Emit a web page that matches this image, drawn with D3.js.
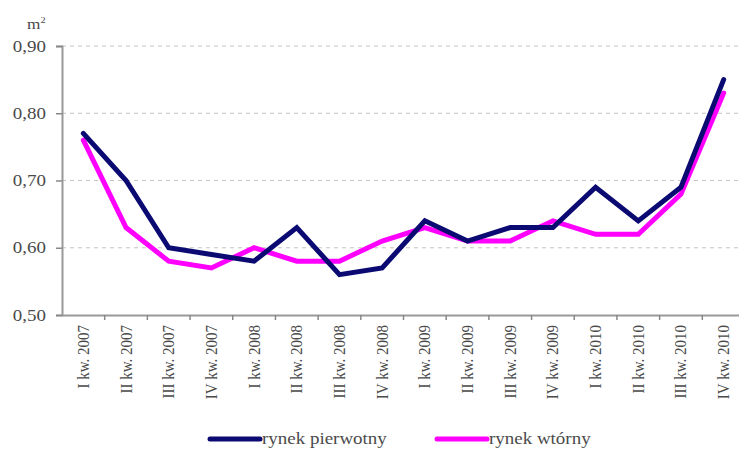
<!DOCTYPE html>
<html>
<head>
<meta charset="utf-8">
<script src="https://cdn.jsdelivr.net/npm/d3@7"></script>
<style>
  html, body { margin: 0; padding: 0; background: #fff; }
  svg { display: block; }
</style>
</head>
<body>
<svg id="chart" width="739" height="450"></svg>
<script>
// Quarterly average area per person (m²), primary vs secondary market
const quarters = [
  "I kw. 2007", "II kw. 2007", "III kw. 2007", "IV kw. 2007",
  "I kw. 2008", "II kw. 2008", "III kw. 2008", "IV kw. 2008",
  "I kw. 2009", "II kw. 2009", "III kw. 2009", "IV kw. 2009",
  "I kw. 2010", "II kw. 2010", "III kw. 2010", "IV kw. 2010"
];
const rynekPierwotny = [0.77, 0.70, 0.60, 0.59, 0.58, 0.63, 0.56, 0.57, 0.64, 0.61, 0.63, 0.63, 0.69, 0.64, 0.69, 0.85];
const rynekWtorny    = [0.76, 0.63, 0.58, 0.57, 0.60, 0.58, 0.58, 0.61, 0.63, 0.61, 0.61, 0.64, 0.62, 0.62, 0.68, 0.83];
const yTicks = [0.50, 0.60, 0.70, 0.80, 0.90];
const seriesNames = ["rynek pierwotny", "rynek wtórny"];
const seriesColors = ["#0a0a72", "#ff00ff"];

const svg = d3.select("#chart");
const margin = { left: 62, top: 46, right: 745, bottom: 315 };

const x = d3.scaleBand().domain(quarters).range([margin.left, margin.right]);
const y = d3.scaleLinear().domain([0.5, 0.9]).range([margin.bottom, margin.top]);

const fmt = v => d3.format(".2f")(v).replace(".", ",");
const font = "Liberation Serif, Times New Roman, serif";
const textColor = "#4a4a4a";
const stretch = 1.15; // text is set slightly wide

// dashed horizontal grid
svg.append("g")
  .selectAll("line")
  .data(yTicks.filter(t => t > 0.5))
  .join("line")
  .attr("x1", margin.left).attr("x2", 739)
  .attr("y1", d => y(d)).attr("y2", d => y(d))
  .attr("stroke", "#c4c4c4")
  .attr("stroke-width", 1)
  .attr("stroke-dasharray", "4,4");

// y axis
const yAxis = svg.append("g")
  .attr("transform", `translate(${margin.left},0)`)
  .call(d3.axisLeft(y).tickValues(yTicks).tickFormat("").tickSize(6));
yAxis.select(".domain").attr("stroke", "#999").attr("stroke-width", 2);
yAxis.selectAll(".tick line").attr("stroke", "#888").attr("stroke-width", 1.5);

svg.append("g")
  .selectAll("text")
  .data(yTicks)
  .join("text")
  .attr("transform", d => `translate(46,${y(d) + 5.5}) scale(${stretch},1)`)
  .attr("text-anchor", "end")
  .attr("font-family", font).attr("font-size", 16.5).attr("fill", textColor)
  .text(fmt);

// x axis
const xAxis = svg.append("g")
  .attr("transform", `translate(0,${margin.bottom})`)
  .call(d3.axisBottom(x).tickSize(0).tickFormat(""));
xAxis.select(".domain").attr("stroke", "#999").attr("stroke-width", 2);
xAxis.selectAll(".tick").remove();

// boundary tick marks between categories
svg.append("g")
  .selectAll("line")
  .data(quarters)
  .join("line")
  .attr("x1", d => x(d) + x.bandwidth()).attr("x2", d => x(d) + x.bandwidth())
  .attr("y1", margin.bottom).attr("y2", margin.bottom + 5)
  .attr("stroke", "#888").attr("stroke-width", 1.5);

// rotated category labels
svg.append("g")
  .selectAll("text")
  .data(quarters)
  .join("text")
  .attr("transform", d => `translate(${x(d) + x.bandwidth() / 2 + 5.5},${margin.bottom + 10}) rotate(-90) scale(1,${stretch})`)
  .attr("text-anchor", "end")
  .attr("font-family", font).attr("font-size", 15).attr("fill", textColor)
  .text(d => d);

// unit label
const unit = svg.append("text")
  .attr("transform", `translate(27,29) scale(${stretch},1)`)
  .attr("font-family", font).attr("font-size", 15).attr("fill", textColor);
unit.append("tspan").text("m");
unit.append("tspan").attr("dy", -6).attr("font-size", 9).text("2");

// series lines
const line = d3.line()
  .x((d, i) => x(quarters[i]) + x.bandwidth() / 2)
  .y(d => y(d));

[rynekWtorny, rynekPierwotny].forEach((vals, k) => {
  const idx = 1 - k;
  svg.append("path")
    .datum(vals)
    .attr("fill", "none")
    .attr("stroke", seriesColors[idx])
    .attr("stroke-width", 5)
    .attr("stroke-linejoin", "miter")
    .attr("stroke-linecap", "round")
    .attr("d", line);
});

// legend
const legendX = [210, 437];
seriesNames.forEach((name, i) => {
  const g = svg.append("g").attr("transform", `translate(${legendX[i]},439)`);
  g.append("line")
    .attr("x1", 0).attr("x2", 50).attr("y1", 0).attr("y2", 0)
    .attr("stroke", seriesColors[i]).attr("stroke-width", 5).attr("stroke-linecap", "round");
  g.append("text")
    .attr("transform", `translate(52,5) scale(${stretch},1)`)
    .attr("font-family", font).attr("font-size", 16.5).attr("fill", textColor)
    .text(name);
});
</script>
</body>
</html>
